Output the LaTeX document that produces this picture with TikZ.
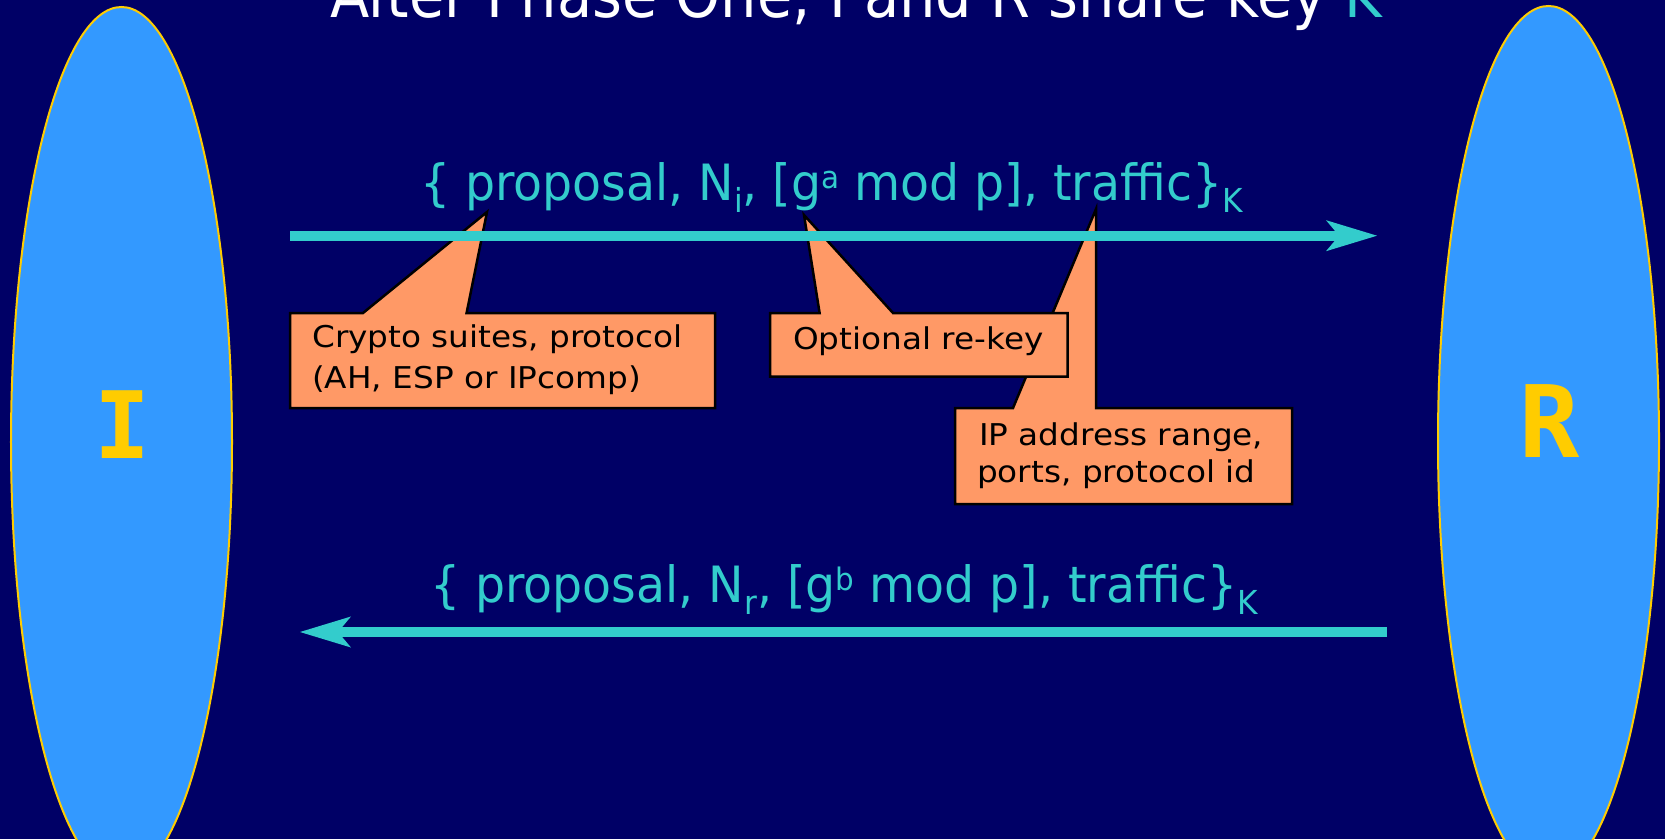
\documentclass[tikz,border=0pt]{standalone}
\usepackage{fontspec}
\usepackage{graphicx}
\setmainfont{DejaVu Sans}[FakeStretch=0.947]
\newfontfamily\titlefont{DejaVu Sans}[FakeStretch=0.911]
\newfontfamily\calloutfont{DejaVu Sans}[FakeStretch=1.09]
\newfontfamily\letterfont{DejaVu Sans Mono}
\usetikzlibrary{arrows.meta}
\definecolor{bg}{HTML}{000066}
\definecolor{partyfill}{HTML}{3399FF}
\definecolor{gold}{HTML}{FFCC00}
\definecolor{tealc}{HTML}{33CCCC}
\definecolor{salmon}{HTML}{FF9966}
\newcommand\dnsub[1]{\raisebox{-0.24em}{\scalebox{0.66}{#1}}}
\newcommand\upsup[1]{\raisebox{0.24em}{\scalebox{0.62}{#1}}}
\begin{document}
\begin{tikzpicture}[x=1bp,y=-1bp,
  party/.style={fill=partyfill, draw=gold, line width=2bp},
  partyletter/.style={text=gold, inner sep=0, anchor=base},
  titletext/.style={text=white, inner sep=0, anchor=base west, font=\titlefont\fontsize{63bp}{70bp}\selectfont},
  msg/.style={text=tealc, inner sep=0, anchor=base west, font=\fontsize{50bp}{60bp}\selectfont},
  callout/.style={fill=salmon, draw=black, line width=2.5bp, line join=miter},
  ctext/.style={text=black, inner sep=0, anchor=base west, font=\calloutfont\fontsize{30bp}{36bp}\selectfont},
  flow/.style={draw=tealc, line width=10bp, -{Stealth[length=51bp,width=31bp,inset=13bp,line width=0pt]}}
]
\useasboundingbox (0,0) rectangle (1665,839);
\fill[bg] (0,0) rectangle (1665,839);
\begin{scope}
  \clip (0,0) rectangle (1665,839);
  \draw[party] (121.5,442) ellipse [x radius=110.5bp, y radius=435bp];
  \draw[party] (1548.5,441) ellipse [x radius=110.5bp, y radius=435bp];
  \node[titletext] (title) at (330,17) {After Phase One, I and R share key \textcolor{tealc}{K}};
\end{scope}
\node[partyletter, font=\letterfont\bfseries\fontsize{93bp}{100bp}\selectfont] (I) at (122,458) {I};
\node[partyletter, font=\letterfont\bfseries\fontsize{100bp}{110bp}\selectfont] (R) at (1550,457) {R};

% callouts (drawn before the arrow)
\draw[callout] (955,408) -- (1013,408) -- (1096,209) -- (1096,408) -- (1292,408) -- (1292,504) -- (955,504) -- cycle;
\draw[callout] (290,313) -- (363,313) -- (487,212) -- (466.6,313) -- (715,313) -- (715,408) -- (290,408) -- cycle;
\draw[callout] (770,313) -- (819.6,313) -- (804,215) -- (893,313) -- (1067.6,313) -- (1067.6,376.7) -- (770,376.7) -- cycle;

\node[ctext] (c1a) at (312,347) {Crypto suites, protocol};
\node[ctext] (c1b) at (312,388) {(AH, ESP or IPcomp)};
\node[ctext] (c2) at (793,349) {Optional re-key};
\node[ctext] (c3a) at (979,445) {IP address range,};
\node[ctext] (c3b) at (977,482) {ports, protocol id};

% messages
\node[msg] (m1) at (420,200) {\{ proposal, N\dnsub{i}, [g\upsup{a} mod p], traffic\}\dnsub{K}};
\node[msg] (m2) at (430,602) {\{ proposal, N\dnsub{r}, [g\upsup{b} mod p], traffic\}\dnsub{K}};

\coordinate (s1) at (290,235.7);
\coordinate (e1) at (1377,235.7);
\coordinate (s2) at (1387,632);
\coordinate (e2) at (300,632);
\draw[flow] (s1) -- (e1);
\draw[flow] (s2) -- (e2);
\end{tikzpicture}
\end{document}
